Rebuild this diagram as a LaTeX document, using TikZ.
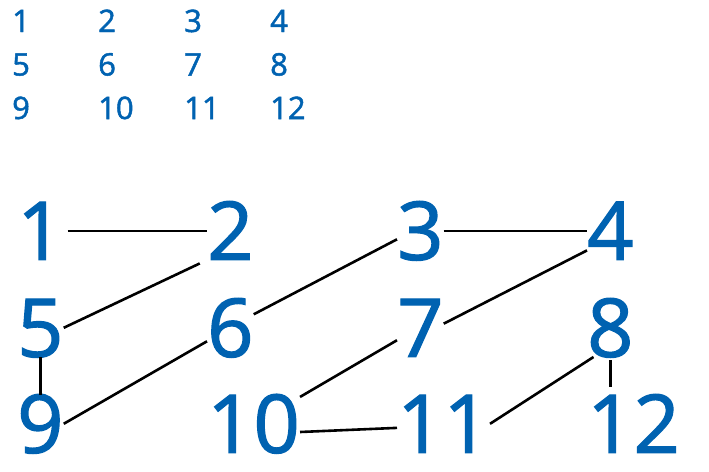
\documentclass[tikz,border=0pt]{standalone}
\usepackage{fontspec}
\newfontfamily\numfont{Open Sans}[FakeBold=1.6]
\usetikzlibrary{positioning}
\definecolor{numblue}{RGB}{0,98,177}
\tikzset{
    smallnum/.style = {inner sep=0pt, anchor=base west, text=numblue, font=\numfont\fontsize{31}{31}\selectfont},
    bignum/.style = {inner sep=0pt, anchor=south west, text height=58pt, text depth=0pt, text=numblue, font=\numfont\fontsize{81}{81}\selectfont},
    edgen/.style = {-, line width=2.6pt, black},
}

\begin{document}
\begin{tikzpicture}[x=1pt, y=-1pt]
  \useasboundingbox (0,0) rectangle (709,471);
  % small grid
  \foreach \n [count=\i from 0] in {1,...,12} {
    \pgfmathtruncatemacro{\col}{mod(\i,4)}
    \pgfmathtruncatemacro{\row}{int(\i/4)}
    \node[smallnum] (s\n) at (12+86*\col, 32+43.5*\row) {\n};
  }
  % big grid
  \node[bignum] (n1) at (17,260) {1};
  \node[bignum] (n2) at (207,260) {2};
  \node[bignum] (n3) at (397,260) {3};
  \node[bignum] (n4) at (587,260) {4};
  \node[bignum] (n5) at (17,357) {5};
  \node[bignum] (n6) at (207,357) {6};
  \node[bignum] (n7) at (397,357) {7};
  \node[bignum] (n8) at (587,357) {8};
  \node[bignum] (n9) at (17,453) {9};
  \node[bignum] (n10) at (207,453) {10};
  \node[bignum] (n11) at (397,453) {11};
  \node[bignum] (n12) at (587,453) {12};
  % links
  \draw[edgen, shorten <=4pt] (n1.east) -- (n2.west);
  \draw[edgen] (n3.east) -- (n4.west);
  \draw[edgen, shorten >=8pt] (n5.east) -- (n2.south west);
  \draw[edgen] (n6.30) -- (n3.200);
  \draw[edgen] (n9.east) -- (n6.210);
  \draw[edgen] (n7.10) -- (n4.220);
  \draw[edgen] (n10.30) -- (n7.208);
  \draw[edgen] (n10.-10) -- (n11.185);
  \draw[edgen] (n11.east) -- (n8.240);
  \draw[edgen] (n5.south) -- (n9.north);
  \draw[edgen, shorten <=3pt, shorten >=8pt] (n8.south) -- (n8.south |- n12.north);
\end{tikzpicture}
\end{document}
